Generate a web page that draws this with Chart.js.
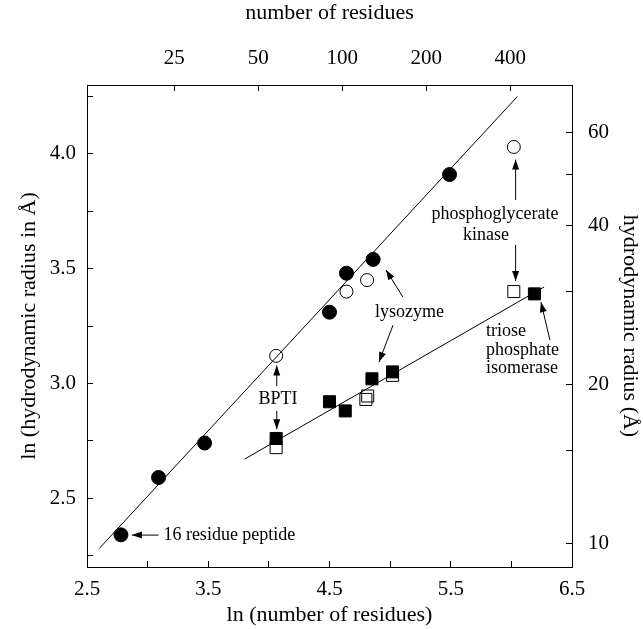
<!DOCTYPE html>
<html>
<head>
<meta charset="utf-8">
<script src="https://cdn.jsdelivr.net/npm/chart.js@4"></script>
<style>
  html, body { margin: 0; padding: 0; background: #fff; }
  #wrap { width: 643px; height: 629px; }
</style>
</head>
<body>
<div id="wrap"><canvas id="grafico"></canvas></div>
<script>
// pontos: ln(N) e ln(Rh)
const circFilledX = [2.78, 3.09, 3.47, 4.50, 4.64, 4.86, 5.49];
const circFilledY = [2.34, 2.59, 2.74, 3.31, 3.48, 3.54, 3.91];
const circOpenX = [4.06, 4.64, 4.81, 6.02];
const circOpenY = [3.12, 3.40, 3.45, 4.03];
const sqFilledX = [4.06, 4.50, 4.63, 4.85, 5.02, 6.19];
const sqFilledY = [2.76, 2.92, 2.88, 3.02, 3.05, 3.39];
const sqOpenX = [4.06, 4.80, 4.815, 5.02, 6.02];
const sqOpenY = [2.72, 2.93, 2.945, 3.035, 3.40];

// retas de ajuste
const fitDenatX = [2.60, 6.05];
const fitDenatY = [2.28, 4.25];
const fitNativeX = [3.80, 6.27];
const fitNativeY = [2.67, 3.42];

// eixos
const xTicks = [2.5, 3, 3.5, 4, 4.5, 5, 5.5, 6, 6.5];
const xLabels = ["2.5", "", "3.5", "", "4.5", "", "5.5", "", "6.5"];
const yTicks = [2.25, 2.5, 2.75, 3, 3.25, 3.5, 3.75, 4, 4.25];
const yLabels = ["", "2.5", "", "3.0", "", "3.5", "", "4.0", ""];
const residueTicks = [25, 50, 100, 200, 400];
const radiusTicks = [10, 15, 20, 30, 40, 50, 60];
const radiusLabels = ["10", "", "20", "", "40", "", "60"];

// anotações (texto e setas)
const notes = [
  { text: "16 residue peptide", x: 3.13, y: 2.339, align: "left" },
  { text: "BPTI", x: 4.075, y: 2.93, align: "center" },
  { text: "lysozyme", x: 5.16, y: 3.31, align: "center" },
  { text: "phosphoglycerate", x: 5.865, y: 3.738, align: "center" },
  { text: "kinase", x: 5.79, y: 3.646, align: "center" },
  { text: "triose", x: 5.79, y: 3.228, align: "left" },
  { text: "phosphate", x: 5.79, y: 3.145, align: "left" },
  { text: "isomerase", x: 5.79, y: 3.065, align: "left" }
];
const arrows = [
  [3.09, 2.339, 2.87, 2.339],
  [4.065, 2.988, 4.065, 3.078],
  [4.065, 2.880, 4.065, 2.800],
  [5.106, 3.376, 4.966, 3.494],
  [5.024, 3.254, 4.908, 3.093],
  [6.035, 3.799, 6.035, 3.975],
  [6.035, 3.603, 6.035, 3.446],
  [6.318, 3.189, 6.244, 3.354]
];

const fonte = "'Liberation Serif', 'Times New Roman', serif";

function pts(xs, ys) {
  return xs.map((x, i) => ({ x, y: ys[i] }));
}

const anotacoes = {
  id: "anotacoes",
  afterDraw(chart) {
    const { ctx, scales } = chart;
    const px = (v) => scales.x.getPixelForValue(v);
    const py = (v) => scales.y.getPixelForValue(v);
    ctx.save();
    ctx.fillStyle = "#000";
    ctx.strokeStyle = "#000";
    ctx.lineWidth = 1;
    ctx.font = "18px " + fonte;
    ctx.textBaseline = "middle";
    notes.forEach((n) => {
      ctx.textAlign = n.align;
      ctx.fillText(n.text, px(n.x), py(n.y));
    });
    arrows.forEach(([x1, y1, x2, y2]) => {
      const ax = px(x1), ay = py(y1), bx = px(x2), by = py(y2);
      const ang = Math.atan2(by - ay, bx - ax);
      ctx.beginPath();
      ctx.moveTo(ax, ay);
      ctx.lineTo(bx, by);
      ctx.stroke();
      ctx.beginPath();
      ctx.moveTo(bx, by);
      ctx.lineTo(bx - 10 * Math.cos(ang) + 3.5 * Math.sin(ang), by - 10 * Math.sin(ang) - 3.5 * Math.cos(ang));
      ctx.lineTo(bx - 10 * Math.cos(ang) - 3.5 * Math.sin(ang), by - 10 * Math.sin(ang) + 3.5 * Math.cos(ang));
      ctx.closePath();
      ctx.fill();
    });
    ctx.restore();
  }
};

function eixoBase() {
  return {
    type: "linear",
    grid: { drawOnChartArea: false, drawTicks: true, tickLength: -6, color: "#000", lineWidth: 1 },
    border: { display: true, color: "#000", width: 1 },
    ticks: { color: "#000", font: { family: fonte, size: 21 }, autoSkip: false, maxRotation: 0 },
    title: { display: true, color: "#000", font: { family: fonte, size: 22 } }
  };
}

function desenharGrafico() {
  const ctx = document.getElementById("grafico").getContext("2d");

  const x = eixoBase();
  x.position = "bottom";
  x.min = 2.5; x.max = 6.5;
  x.afterBuildTicks = (s) => { s.ticks = xTicks.map((v) => ({ value: v })); };
  x.ticks.callback = (v, i) => xLabels[i];
  x.ticks.padding = 16;
  x.title.text = "ln (number of residues)";
  x.title.padding = { top: 0, bottom: 1 };
  x.afterFit = (s) => { s.height = 62; };

  const x2 = eixoBase();
  x2.position = "top";
  x2.min = 2.5; x2.max = 6.5;
  x2.afterBuildTicks = (s) => { s.ticks = residueTicks.map((n) => ({ value: Math.log(n) })); };
  x2.ticks.callback = (v, i) => String(residueTicks[i]);
  x2.ticks.padding = 20;
  x2.title.text = "number of residues";
  x2.title.padding = { top: 0, bottom: 0 };
  x2.afterFit = (s) => { s.height = 85; };

  const y = eixoBase();
  y.position = "left";
  y.min = 2.2; y.max = 4.3;
  y.afterBuildTicks = (s) => { s.ticks = yTicks.map((v) => ({ value: v })); };
  y.ticks.callback = (v, i) => yLabels[i];
  y.ticks.padding = 17;
  y.title.text = "ln (hydrodynamic radius in Å)";
  y.title.padding = { top: 16, bottom: 0 };
  y.afterFit = (s) => { s.width = 87; };

  const y2 = eixoBase();
  y2.position = "right";
  y2.min = 2.2; y2.max = 4.3;
  y2.afterBuildTicks = (s) => { s.ticks = radiusTicks.map((r) => ({ value: Math.log(r) })); };
  y2.ticks.callback = (v, i) => radiusLabels[i];
  y2.ticks.padding = 22;
  y2.title.text = "hydrodynamic radius (Å)";
  y2.title.padding = { top: 0, bottom: 0 };
  y2.afterFit = (s) => { s.width = 71; };

  new Chart(ctx, {
    type: "scatter",
    data: {
      datasets: [
        {
          label: "ajuste desnaturado",
          data: pts(fitDenatX, fitDenatY),
          showLine: true, borderColor: "#000", borderWidth: 1, pointRadius: 0, order: 6
        },
        {
          label: "ajuste nativo",
          data: pts(fitNativeX, fitNativeY),
          showLine: true, borderColor: "#000", borderWidth: 1, pointRadius: 0, order: 5
        },
        {
          label: "nativo (aberto)",
          data: pts(sqOpenX, sqOpenY),
          pointStyle: "rect", pointRadius: 8.5, borderColor: "#000", borderWidth: 1,
          backgroundColor: "rgba(0,0,0,0)", order: 4
        },
        {
          label: "nativo",
          data: pts(sqFilledX, sqFilledY),
          pointStyle: "rect", pointRadius: 8.5, borderColor: "#000", borderWidth: 1,
          backgroundColor: "#000", order: 3
        },
        {
          label: "desnaturado (aberto)",
          data: pts(circOpenX, circOpenY),
          pointStyle: "circle", pointRadius: 6.5, borderColor: "#000", borderWidth: 1,
          backgroundColor: "rgba(0,0,0,0)", order: 2
        },
        {
          label: "desnaturado",
          data: pts(circFilledX, circFilledY),
          pointStyle: "circle", pointRadius: 7, borderColor: "#000", borderWidth: 1,
          backgroundColor: "#000", order: 1
        }
      ]
    },
    options: {
      responsive: true,
      maintainAspectRatio: false,
      animation: false,
      layout: { padding: 0 },
      plugins: { legend: { display: false }, tooltip: { enabled: false } },
      scales: { x, x2, y, y2 }
    },
    plugins: [anotacoes]
  });
}

window.addEventListener("DOMContentLoaded", desenharGrafico);
</script>
</body>
</html>
